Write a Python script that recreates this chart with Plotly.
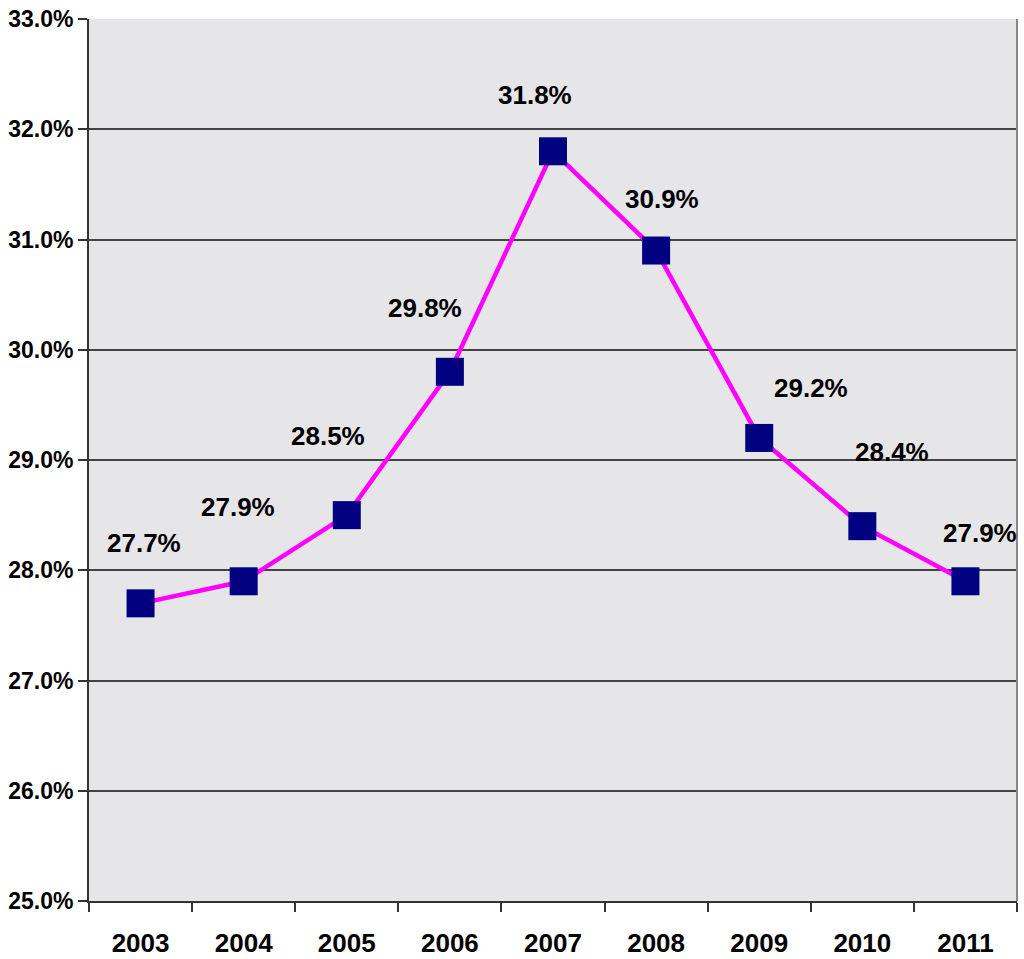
import plotly.graph_objects as go

### data
years = ['2003', '2004', '2005', '2006', '2007', '2008', '2009', '2010', '2011']
share = [27.7, 27.9, 28.5, 29.8, 31.8, 30.9, 29.2, 28.4, 27.9]
y_ticks = [25, 26, 27, 28, 29, 30, 31, 32, 33]

### label placement (pixel offsets from each marker, like the Excel labels)
label_dx = [3, -6, -19, -25, -18, 6, 52, 30, 15]
label_dy = [60, 74, 79, 64, 56, 52, 50, 74, 48]

fig = go.Figure()

fig.add_trace(go.Scatter(
    x=years, y=share, mode='lines+markers',
    line=dict(color='#FF00FF', width=4.5),
    marker=dict(symbol='square', size=28, color='#000080', line=dict(width=0)),
    showlegend=False))

# value labels (x given as category index)
for i in range(len(years)):
    fig.add_annotation(x=i, y=share[i], text='<b>%.1f%%</b>' % share[i],
                       showarrow=False, xshift=label_dx[i], yshift=label_dy[i],
                       font=dict(family='Liberation Sans, Arial', size=26, color='black'))

fig.update_layout(
    width=1024, height=959,
    margin=dict(l=89, r=7, t=19, b=58),
    paper_bgcolor='white',
    plot_bgcolor='#e6e6e9',
    font=dict(family='Liberation Sans, Arial', color='black'),
)

fig.update_xaxes(
    type='category', range=[-0.5, 8.5], automargin=False,
    showline=True, linecolor='#333333', linewidth=2, mirror=False,
    ticks='outside', tickson='boundaries', ticklen=9, tickcolor='#333333', tickwidth=2,
    showgrid=False,
    tickfont=dict(size=26, family='Liberation Sans, Arial', color='black'),
    ticklabelstandoff=18,
    tickprefix='<b>', ticksuffix='</b>',
)

fig.update_yaxes(
    range=[25, 33], tickvals=y_ticks, automargin=False, ticklabeloverflow='allow',
    ticktext=['<b>%.1f%%</b>' % v for v in y_ticks],
    showline=True, linecolor='#333333', linewidth=2,
    ticks='outside', ticklen=9, tickcolor='#333333', tickwidth=2,
    showgrid=True, gridcolor='#444444', gridwidth=1.5,
    zeroline=False,
    tickfont=dict(size=23, family='Liberation Sans, Arial', color='black'),
)

# thin grey border on the right side of the plot area
fig.add_shape(type='line', xref='paper', yref='paper', x0=1, x1=1, y0=0, y1=1,
              line=dict(color='#888888', width=2))

# drop the default 8px page margin so the figure sits at the window corner
fig.write_html("out.html", config={'displayModeBar': False},
               post_script="document.body.style.margin='0';")
